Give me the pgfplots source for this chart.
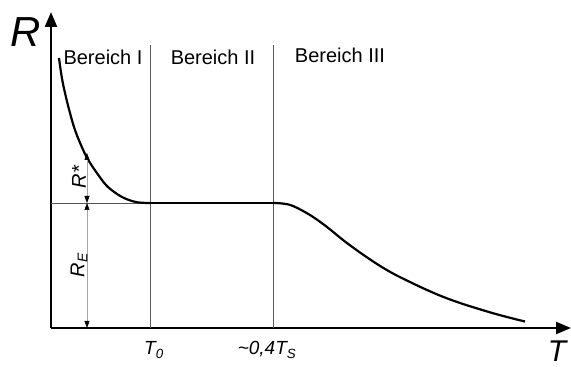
\documentclass[border=0pt]{standalone}
\usepackage{fontspec}
\setmainfont{Liberation Sans}
\usepackage{pgfplots}
\pgfplotsset{compat=1.18}
\usetikzlibrary{arrows.meta}
\begin{document}
\begin{tikzpicture}
\begin{axis}[
  x=1pt, y=1pt,
  xmin=0, xmax=520, ymin=0, ymax=316,
  axis lines=left,
  axis line style={line width=2.4pt, -{Triangle[length=15pt,width=12pt]}},
  xtick=\empty, ytick=\empty,
  clip=false,
]
% region boundaries
\addplot[draw=black!65, line width=0.9pt] coordinates {(99,0) (99,283)};
\addplot[draw=black!65, line width=0.9pt] coordinates {(222,0) (222,283)};
% residual resistance level
\addplot[draw=black!65, line width=0.8pt] coordinates {(0,125) (99,125)};
% resistance curve
\addplot[black, line width=2.2pt, smooth, tension=0.6] coordinates {
  (8,270) (10.7,251.3) (14,235) (19,215) (24,198) (30.7,181.3) (37.3,168)
  (47.3,153) (57,141) (71,131) (84,126.2) (94,125.1) (99,125)
};
\addplot[black, line width=2.2pt] coordinates {(99,125) (222,125)};
\addplot[black, line width=2.2pt, smooth, tension=0.6] coordinates {
  (222,125) (232,124.4) (242,122) (259,113) (276,101) (292,88) (309,75.5) (326,64)
  (342,54.5) (359,46) (376,38) (392,31.2) (409,25) (426,19.6) (442,14.8) (459,10.2) (474,6.5)
};
% dimension arrows
\addplot[black!35, line width=0.5pt,
  {Triangle[length=7pt,width=5pt,fill=black,color=black]}-{Triangle[length=7pt,width=5pt,fill=black,color=black]}]
  coordinates {(36,125) (36,175)};
\addplot[black!35, line width=0.5pt,
  {Triangle[length=7pt,width=5pt,fill=black,color=black]}-{Triangle[length=7pt,width=5pt,fill=black,color=black]}]
  coordinates {(36,0) (36,125)};
% labels
\node[rotate=90, font=\fontsize{20}{24}\selectfont\itshape] at (axis cs:28,151) {R*};
\node[rotate=90, font=\fontsize{20}{24}\selectfont\itshape] at (axis cs:28,63) {R\textsubscript{E}};
\node[font=\fontsize{20}{24}\selectfont] at (axis cs:52,271) {Bereich I};
\node[font=\fontsize{20}{24}\selectfont] at (axis cs:162,271) {Bereich II};
\node[font=\fontsize{20}{24}\selectfont] at (axis cs:289,273) {Bereich III};
\node[font=\fontsize{42}{48}\selectfont\itshape] at (axis cs:-25,296) {R};
\node[font=\fontsize{30}{34}\selectfont\itshape] at (axis cs:506,-23) {T};
\node[font=\fontsize{19}{22}\selectfont\itshape] at (axis cs:103,-22) {T\textsubscript{0}};
\node[font=\fontsize{19}{22}\selectfont\itshape] at (axis cs:216,-22) {\textasciitilde0,4T\textsubscript{S}};
\end{axis}
\pgfresetboundingbox
\path[use as bounding box] (-51pt,-39pt) rectangle (520pt,328pt);
\end{tikzpicture}
\end{document}
